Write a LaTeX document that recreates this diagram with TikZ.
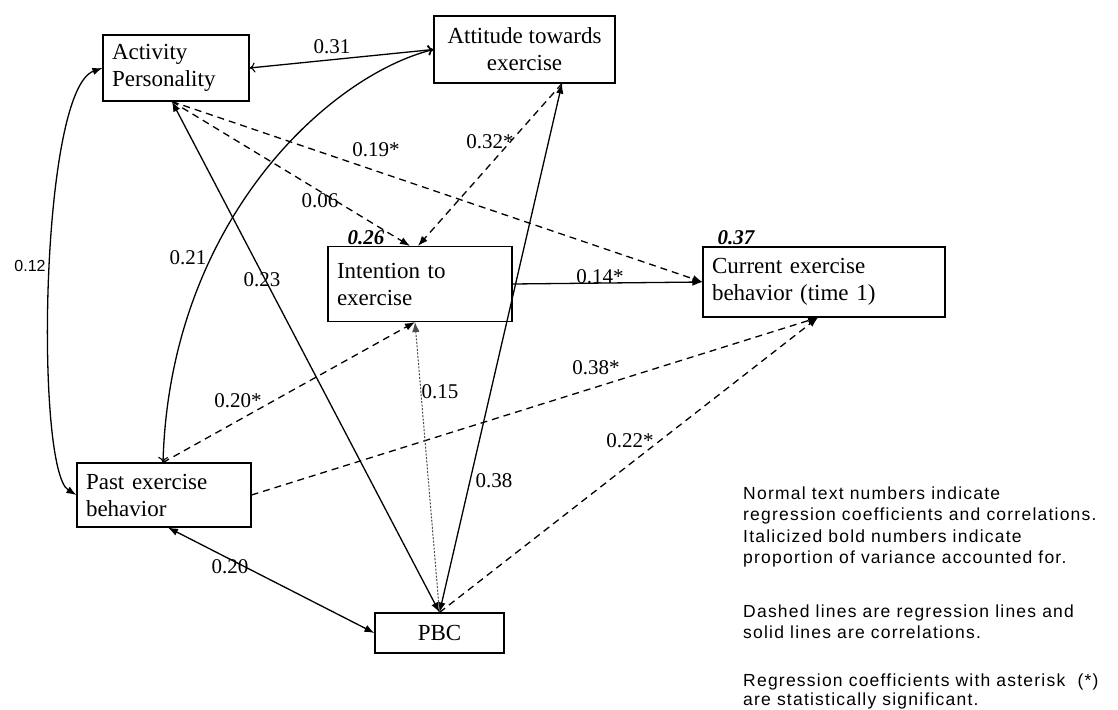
\documentclass[tikz,border=0pt]{standalone}
\usepackage{fontspec}
\setmainfont{Liberation Serif}
\newfontfamily\legendfont{Liberation Sans}[LetterSpace=7]
\newfontfamily\smallsans{Liberation Sans}
\usetikzlibrary{arrows.meta,calc}

\begin{document}
\begin{tikzpicture}[x=1pt,y=-1pt,
  box/.style={draw,line width=1.1pt,rectangle,inner xsep=9pt,inner ysep=0pt,
    font=\fontsize{23}{27}\selectfont},
  lbl/.style={font=\fontsize{21}{24}\selectfont,inner sep=0pt},
  rsq/.style={font=\fontsize{21}{24}\selectfont\bfseries\itshape,inner sep=0pt},
  note/.style={font=\legendfont\fontsize{17.5}{21}\selectfont,inner sep=0pt,anchor=base west},
  tipF/.tip={Latex[length=10pt,width=7.5pt]},
  tipO/.tip={To[length=5.5pt,width=10pt,line width=1.1pt]},
  conn/.style={line width=1.3pt},
  cor/.style={conn,tipF-tipF},
  coropen/.style={conn,tipO-tipO},
  reg/.style={conn,dash pattern=on 7pt off 5pt,-tipF},
  dotreg/.style={line width=1pt,gray!60!black,dash pattern=on 2pt off 1.5pt,-tipF},
]
\useasboundingbox (0,0) rectangle (1118,709);
\fill[white] (0,0) rectangle (1118,709);

% variables
\node[box,minimum height=66pt,text width=128pt,align=left] (act) at (176,68) {Activity\\Personality};
\node[box,minimum width=181pt,minimum height=67pt,align=center] (att) at (524.5,49.5) {Attitude towards\\exercise};
\node[box,minimum height=75pt,text width=166pt,align=left] (int) at (420,284) {Intention to\\exercise};
\node[box,minimum height=70pt,text width=224pt,align=left] (cur) at (824,282) {Current exercise\\behavior (time 1)};
\node[box,minimum height=64pt,text width=156pt,align=left] (past) at (164,495) {Past exercise\\behavior};
\node[box,minimum width=129pt,minimum height=40pt,align=center] (pbc) at (439.5,633) {PBC};

% attachment points
\coordinate (actB) at ($(act.south)+(-4,0)$);
\coordinate (attB) at ($(att.south)+(37.5,0)$);
\coordinate (intT1) at ($(int.north)+(-10,0)$);
\coordinate (intT2) at ($(int.north)+(-2,0)$);
\coordinate (intB) at ($(int.south)+(-5,0)$);
\coordinate (curB) at ($(cur.south)+(-6,0)$);
\coordinate (pastT) at ($(past.north)+(-1,0)$);
\coordinate (pastB) at ($(past.south)+(4,0)$);

% correlations
\draw[coropen] (act.east) -- (att.west);
\draw[coropen] (att.west) .. controls (330,75) and (170,220) .. (pastT);
\draw[cor] (act.west) .. controls (40,90) and (35,470) .. (past.west);
\draw[cor] (actB) -- (pbc.north);
\draw[cor] (attB) -- (pbc.north);
\draw[cor] (pastB) -- (pbc.west);

% regressions
\draw[reg] (actB) -- (intT1);
\draw[reg] (actB) -- (cur.west);
\draw[reg] (attB) -- (intT2);
\draw[conn,-tipF] (int.east) -- (cur.west);
\draw[reg] (pastT) -- (intB);
\draw[reg] (past.east) -- (curB);
\draw[dotreg] (pbc.north) -- (intB);
\draw[reg] (pbc.north) -- (curB);

% coefficients
\node[lbl] (c31) at (332,47) {0.31};
\node[lbl] (c19) at (376,150) {0.19*};
\node[lbl] (c32) at (490,142) {0.32*};
\node[lbl] (c06) at (320,201) {0.06};
\node[lbl] (c21) at (188,258) {0.21};
\node[lbl,font=\smallsans\fontsize{16}{18}\selectfont] (c12) at (30,266) {0.12};
\node[lbl] (c23) at (262,280) {0.23};
\node[lbl] (c14) at (600,277) {0.14*};
\node[lbl] (c38s) at (596,368) {0.38*};
\node[lbl] (c20s) at (238,401) {0.20*};
\node[lbl] (c15) at (440,392) {0.15};
\node[lbl] (c22) at (630,441) {0.22*};
\node[lbl] (c38) at (494,481) {0.38};
\node[lbl] (c20) at (230,567) {0.20};

% explained variance
\node[rsq] (r26) at (366,238) {0.26};
\node[rsq] (r37) at (736,238) {0.37};

% notes
\node[note] (n1) at (743,499) {Normal text numbers indicate};
\node[note] (n2) at (743,520.5) {regression coefficients and correlations.};
\node[note] (n3) at (743,542) {Italicized bold numbers indicate};
\node[note] (n4) at (743,563.5) {proportion of variance accounted for.};
\node[note] (n5) at (743,617) {Dashed lines are regression lines and};
\node[note] (n6) at (743,638) {solid lines are correlations.};
\node[note] (n7) at (743,686) {Regression coefficients with asterisk\ \ (*)};
\node[note] (n8) at (743,705) {are statistically significant.};
\end{tikzpicture}
\end{document}
